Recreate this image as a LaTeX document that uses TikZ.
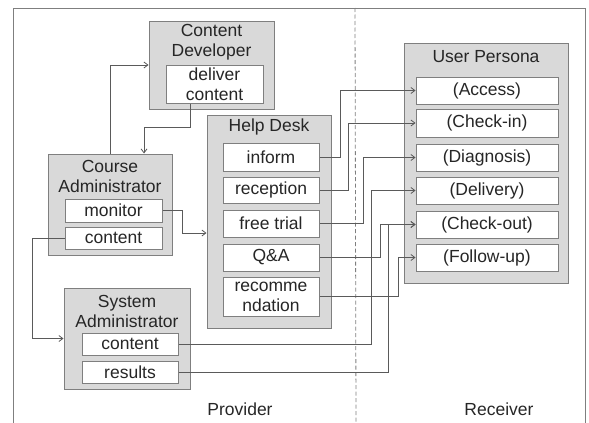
\documentclass[tikz,border=0pt]{standalone}
\usepackage{fontspec}
\setmainfont{Liberation Sans}
\usetikzlibrary{arrows.meta}
\definecolor{boxfill}{HTML}{D9D9D9}
\definecolor{boxline}{HTML}{7F7F7F}
\definecolor{wire}{HTML}{5A5A5A}
\definecolor{txt}{HTML}{262626}
\begin{document}
\begin{tikzpicture}[x=1pt,y=-1pt,
  every node/.style={text=txt,font=\fontsize{17.5}{20}\selectfont},
  outerbox/.style={draw=boxline,fill=boxfill,line width=1pt,inner sep=0pt},
  innerbox/.style={draw=boxline,fill=white,line width=1pt,inner sep=0pt,align=center},
  title/.style={inner sep=0pt,align=center},
  arr/.style={draw=wire,line width=0.8pt,-{Straight Barb[length=4pt,width=6pt]}},
  wireline/.style={draw=wire,line width=0.8pt}]
\useasboundingbox (0,0) rectangle (589,423);
% frame and divider
\draw[boxline,line width=1pt] (13,423) -- (13,8) -- (585,8) -- (585,423);
\draw[boxline,line width=0.8pt,dash pattern=on 4pt off 2.5pt] (355,8) -- (356,423);
% Content Developer
\node[outerbox,minimum width=125,minimum height=88] (cd) at (211.5,65) {};
\node[title] (cdt) at (211.5,42.5) {Content\\Developer};
\node[innerbox,minimum width=97,minimum height=38] (dc) at (214.5,84) {deliver\\content};
% Course Administrator
\node[outerbox,minimum width=124,minimum height=101] (ca) at (110,204.5) {};
\node[title] (cat) at (110,176.5) {Course\\Administrator};
\node[innerbox,minimum width=97,minimum height=23] (mon) at (113.5,210.5) {monitor};
\node[innerbox,minimum width=97,minimum height=22] (cac) at (113.5,238) {content};
% Help Desk
\node[outerbox,minimum width=124,minimum height=213] (hd) at (269,221.5) {};
\node[title] (hdt) at (269,127) {Help Desk};
\node[innerbox,minimum width=96,minimum height=28] (inf) at (271,157) {inform};
\node[innerbox,minimum width=96,minimum height=26] (rec) at (271,190) {reception};
\node[innerbox,minimum width=96,minimum height=27] (ft) at (271,223.5) {free trial};
\node[innerbox,minimum width=96,minimum height=27] (qa) at (271,257.5) {Q\&A};
\node[innerbox,minimum width=96,minimum height=39] (rm) at (271,296.5) {recomme\\ndation};
% System Administrator
\node[outerbox,minimum width=126,minimum height=101] (sa) at (127,338.5) {};
\node[title] (sat) at (127,311) {System\\Administrator};
\node[innerbox,minimum width=96,minimum height=22] (sac) at (130,344) {content};
\node[innerbox,minimum width=96,minimum height=22] (res) at (130,372) {results};
% User Persona
\node[outerbox,minimum width=164,minimum height=240] (up) at (486,163) {};
\node[title] (upt) at (486,57) {User Persona};
\node[innerbox,minimum width=142,minimum height=27] (acc) at (487,90.5) {(Access)};
\node[innerbox,minimum width=142,minimum height=28] (chi) at (487,123) {(Check-in)};
\node[innerbox,minimum width=142,minimum height=27] (dia) at (487,157.5) {(Diagnosis)};
\node[innerbox,minimum width=142,minimum height=27] (del) at (487,190.5) {(Delivery)};
\node[innerbox,minimum width=142,minimum height=27] (cho) at (487,224.5) {(Check-out)};
\node[innerbox,minimum width=142,minimum height=27] (fol) at (487,257.5) {(Follow-up)};
% labels
\node (prov) at (240,409) {Provider};
\node (recv) at (499,409) {Receiver};
% connectors
\draw[arr] (ca.north) |- (cd.west);
\draw[arr] ([xshift=-24pt]dc.south) -- ++(0,24) -| ([xshift=34pt]ca.north);
\draw[arr] (mon.east) -- ++(20,0) |- (hd.west |- {(0,233)});
\draw[arr] (cac.west) -- ++(-32,0) |- (sa.west);
\draw[arr] (inf.east) -- ++(21,0) |- (acc.west);
\draw[arr] (rec.east) -- ++(29,0) |- (chi.west);
\draw[arr] (ft.east) -- ++(44,0) |- (dia.west);
\draw[arr] (sac.east) -- ++(193,0) |- (del.west);
\draw[arr] (qa.east) -- ++(61,0) |- (cho.west);
\draw[arr] (res.east) -- ++(210,0) |- (cho.west);
\draw[arr] (rm.east) -- ++(79,0) |- (fol.west);
\end{tikzpicture}
\end{document}
